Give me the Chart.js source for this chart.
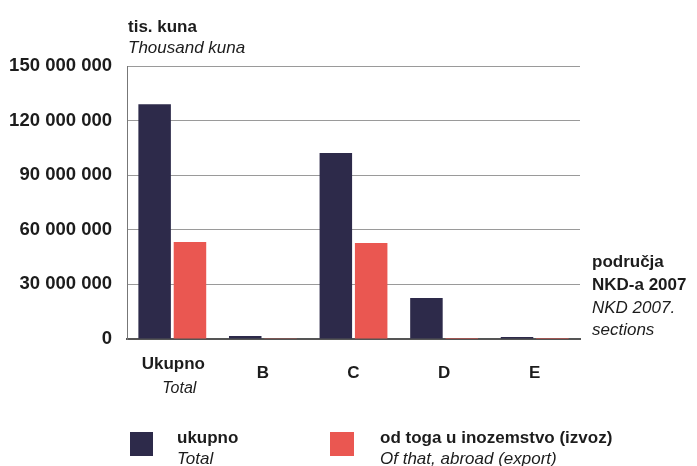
<!DOCTYPE html>
<html>
<head>
<meta charset="utf-8">
<script src="https://cdn.jsdelivr.net/npm/chart.js@4/dist/chart.umd.min.js"></script>
<style>
  html, body { margin: 0; padding: 0; background: #fff; }
  #wrap { width: 697px; height: 466px; position: relative; }
</style>
</head>
<body>
<div id="wrap"><canvas id="grafikon" width="697" height="466"></canvas></div>
<script>
// podaci (tis. kuna)
var kategorije = ['Ukupno', 'B', 'C', 'D', 'E'];
var ukupno = [129000000, 1600000, 102200000, 22500000, 1100000];
var izvoz = [53300000, 100000, 52700000, 500000, 50000];
var yOznake = [0, 30000000, 60000000, 90000000, 120000000, 150000000];

var FONT = '"Liberation Sans", Arial, sans-serif';
var TAMNA = '#2d2a4a';
var CRVENA = '#ea5751';
var TEKST = '#1c1c1c';

function formatBroj(v) {
    return String(v).replace(/\B(?=(\d{3})+(?!\d))/g, ' ');
}

// dodatni tekstovi: naslovi osi, legenda
var tekstovi = {
    id: 'tekstovi',
    afterDraw: function (chart) {
        var ctx = chart.ctx;
        var x = chart.scales.x;
        ctx.save();
        ctx.fillStyle = TEKST;
        ctx.textBaseline = 'alphabetic';
        ctx.textAlign = 'left';

        ctx.font = 'bold 17px ' + FONT;
        ctx.fillText('tis. kuna', 128, 32);
        ctx.font = 'italic 17px ' + FONT;
        ctx.fillText('Thousand kuna', 128, 53);

        ctx.font = 'bold 17px ' + FONT;
        ctx.fillText('područja', 592, 267);
        ctx.fillText('NKD-a 2007', 592, 290);
        ctx.font = 'italic 17px ' + FONT;
        ctx.fillText('NKD 2007.', 592, 313);
        ctx.fillText('sections', 592, 335);

        // prva kategorija u dva reda
        ctx.textAlign = 'center';
        ctx.font = 'bold 17px ' + FONT;
        ctx.fillText(kategorije[0], x.getPixelForValue(0) + 1, 369);
        ctx.font = 'italic 16px ' + FONT;
        ctx.fillText('Total', x.getPixelForValue(0) + 7, 393);

        // legenda
        ctx.fillStyle = TAMNA;
        ctx.fillRect(130, 432, 23, 24);
        ctx.fillStyle = CRVENA;
        ctx.fillRect(330, 432, 24, 24);
        ctx.fillStyle = TEKST;
        ctx.textAlign = 'left';
        ctx.font = 'bold 17px ' + FONT;
        ctx.fillText('ukupno', 177, 443);
        ctx.fillText('od toga u inozemstvo (izvoz)', 380, 443);
        ctx.font = 'italic 17px ' + FONT;
        ctx.fillText('Total', 177, 464);
        ctx.fillText('Of that, abroad (export)', 380, 464);
        ctx.restore();
    }
};

new Chart(document.getElementById('grafikon'), {
    type: 'bar',
    data: {
        labels: kategorije,
        datasets: [{
            label: 'ukupno',
            data: ukupno,
            backgroundColor: TAMNA,
            categoryPercentage: 0.78,
            barPercentage: 0.92
        }, {
            label: 'od toga u inozemstvo (izvoz)',
            data: izvoz,
            backgroundColor: CRVENA,
            categoryPercentage: 0.78,
            barPercentage: 0.92
        }]
    },
    options: {
        responsive: false,
        animation: false,
        layout: { padding: { left: 0, right: 117, top: 66, bottom: 0 } },
        plugins: {
            legend: { display: false },
            tooltip: { enabled: false }
        },
        scales: {
            x: {
                grid: { display: false },
                border: { display: true, color: '#555', width: 2 },
                ticks: {
                    color: TEKST,
                    font: { family: FONT, size: 17, weight: 'bold' },
                    padding: 16,
                    maxRotation: 0,
                    // Ukupno se crta posebno (dva reda)
                    callback: function (v, i) { return i === 0 ? '' : kategorije[i]; }
                },
                afterFit: function (s) { s.height = 127; }
            },
            y: {
                min: 0,
                max: 150000000,
                afterBuildTicks: function (s) {
                    s.ticks = yOznake.map(function (v) { return { value: v }; });
                },
                grid: { color: '#9a9a9a', lineWidth: 1, drawTicks: false },
                border: { display: true, color: '#777', width: 1 },
                ticks: {
                    color: TEKST,
                    font: { family: FONT, size: 18.5, weight: 'bold' },
                    padding: 15,
                    callback: function (v) { return formatBroj(v); }
                },
                afterFit: function (s) { s.width = 127; }
            }
        }
    },
    plugins: [tekstovi]
});
</script>
</body>
</html>
